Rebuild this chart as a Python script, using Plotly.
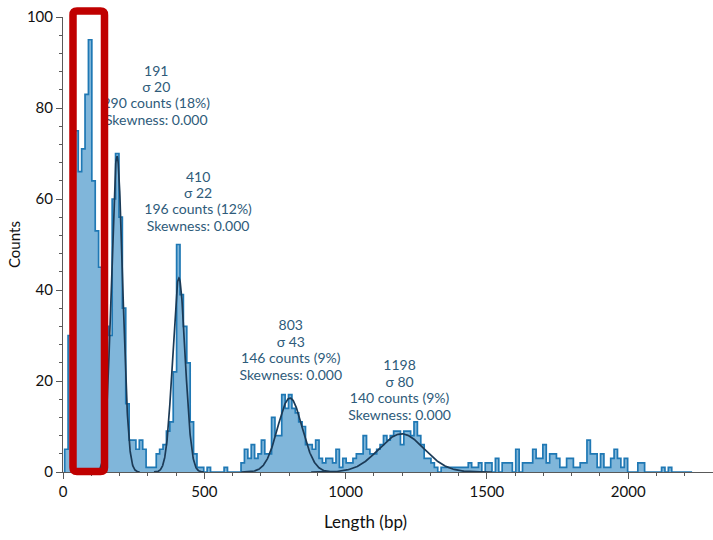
import numpy as np
import plotly.graph_objects as go

# ---------------- data ----------------
bin_start = 6      # bp, left edge of first bin
bin_width = 12     # bp
counts = [
    5, 30, 55, 75, 66, 71, 83, 95, 64, 53,
    45, 40, 32, 30, 60, 70, 56, 36, 15, 7,
    7, 5, 7, 5, 1, 1, 1, 4, 5, 6,
    9, 11, 22, 50, 39, 32, 24, 11, 4, 1,
    1, 0, 1, 0, 0, 0, 0, 1, 0, 0,
    0, 0, 2, 5, 3, 6, 3, 4, 7, 4,
    4, 12, 8, 8, 17, 14, 17, 14, 13, 11,
    10, 6, 6, 5, 7, 3, 2, 3, 3, 2,
    5, 1, 3, 2, 2, 3, 4, 4, 8, 5,
    4, 4, 5, 6, 8, 7, 8, 9, 9, 6,
    9, 9, 8, 11, 8, 6, 3, 3, 2, 1,
    0, 1, 1, 1, 1, 1, 1, 1, 1, 2,
    1, 1, 2, 0, 2, 2, 0, 3, 0, 2,
    2, 2, 0, 5, 0, 2, 2, 2, 5, 3,
    3, 6, 2, 4, 4, 3, 1, 1, 3, 3,
    1, 1, 2, 2, 7, 4, 4, 1, 4, 1,
    1, 3, 5, 3, 1, 3, 0, 0, 0, 2,
    2, 0, 0, 0, 0, 0, 1, 0, 1, 0,
    0, 0, 0, 0, 0,
]

peak_means = [191, 410, 803, 1198]
peak_sigmas = [20, 22, 43, 80]
peak_counts = [290, 196, 146, 140]
peak_pcts = [18, 12, 9, 9]
peak_skew = [0.0, 0.0, 0.0, 0.0]

# label anchor positions (data units, centre of each 4-line block)
label_x = [330, 478, 806, 1191]
label_y = [82.5, 59.2, 26.5, 17.7]

# ---------------- figure ----------------
W, H = 713, 540
ML, MR, MT, MB = 63, 0, 17, 68
PW, PH = W - ML - MR, H - MT - MB
Y_MAX = 100

edges = bin_start + bin_width * np.arange(len(counts) + 1)
step_x = np.concatenate([[edges[0]], edges[:-1], [edges[-1]], [edges[-1]]])
step_y = np.concatenate([[0], counts, [counts[-1]], [0]])

fig = go.Figure()
fig.add_trace(go.Scatter(
    x=step_x, y=step_y, mode="lines", line=dict(shape="hv", color="#1f78b4", width=1.7),
    fill="tozeroy", fillcolor="#80b6da", hoverinfo="skip"))

for mu, sd, n in zip(peak_means, peak_sigmas, peak_counts):
    xs = np.linspace(mu - 4 * sd, mu + 4 * sd, 240)
    ys = n * bin_width / (sd * np.sqrt(2 * np.pi)) * np.exp(-0.5 * ((xs - mu) / sd) ** 2)
    fig.add_trace(go.Scatter(x=xs, y=ys, mode="lines",
                             line=dict(color="#1b3a56", width=1.7), hoverinfo="skip"))

# annotation text, one trace per line so spacing can be matched
line_step = 16.4 * Y_MAX / PH
line_sets = [[f"{m}", f"σ {s}", f"{c} counts ({p}%)", f"Skewness: {k:.3f}"]
             for m, s, c, p, k in zip(peak_means, peak_sigmas, peak_counts, peak_pcts, peak_skew)]
for j in range(4):
    fig.add_trace(go.Scatter(
        x=label_x, y=[ly - (j - 1.5) * line_step for ly in label_y],
        mode="text", text=[ls[j] for ls in line_sets],
        textposition="middle center", cliponaxis=False,
        textfont=dict(family="Lato", size=14, color="#2e5b7a"), hoverinfo="skip"))

# red highlight box (overlay), given in pixel positions
def px2paper(px, py):
    return (px - ML) / PW, (H - MB - py) / PH

x0, x1, y0, y1, r = 73, 104.5, 11, 471.5, 4
pts = [
    ("M", x0 + r, y0), ("L", x1 - r, y0), ("Q", x1, y0, x1, y0 + r),
    ("L", x1, y1 - r), ("Q", x1, y1, x1 - r, y1), ("L", x0 + r, y1),
    ("Q", x0, y1, x0, y1 - r), ("L", x0, y0 + r), ("Q", x0, y0, x0 + r, y0),
]
path = ""
for p in pts:
    if p[0] == "Q":
        a = px2paper(p[1], p[2]); b = px2paper(p[3], p[4])
        path += f"Q{a[0]:.5f},{a[1]:.5f} {b[0]:.5f},{b[1]:.5f} "
    else:
        a = px2paper(p[1], p[2])
        path += f"{p[0]}{a[0]:.5f},{a[1]:.5f} "
path += "Z"
fig.add_shape(type="path", path=path, xref="paper", yref="paper",
              line=dict(color="#c00000", width=7.5), layer="above")

axis_col = "#595959"
tickfont = dict(family="Lato", size=15, color="#111111")
fig.update_xaxes(range=[0, 2300], showline=True, linecolor=axis_col, linewidth=1,
                 ticks="outside", ticklen=6, tickcolor=axis_col, tick0=0, dtick=500,
                 showgrid=False, zeroline=False, tickfont=tickfont,
                 minor=dict(ticks="outside", ticklen=3, dtick=100, tickcolor=axis_col, showgrid=False))
fig.update_yaxes(range=[0, Y_MAX], showline=True, linecolor=axis_col, linewidth=1,
                 ticks="outside", ticklen=6, tickcolor=axis_col, tick0=0, dtick=20,
                 showgrid=False, zeroline=False, tickfont=tickfont,
                 minor=dict(ticks="outside", ticklen=3, dtick=4, tickcolor=axis_col, showgrid=False))

fig.add_annotation(text="Length (bp)", xref="paper", yref="paper",
                   x=(365 - ML) / PW, y=(H - MB - 521) / PH, showarrow=False,
                   xanchor="center", yanchor="middle",
                   font=dict(family="Lato", size=17, color="#111111"))
fig.add_annotation(text="Counts", xref="paper", yref="paper",
                   x=(14 - ML) / PW, y=(H - MB - 245) / PH, showarrow=False,
                   xanchor="center", yanchor="middle", textangle=-90,
                   font=dict(family="Lato", size=15, color="#111111"))

fig.update_layout(width=W, height=H, margin=dict(l=ML, r=MR, t=MT, b=MB),
                  plot_bgcolor="white", paper_bgcolor="white", showlegend=False)

fig.write_html("out.html")
